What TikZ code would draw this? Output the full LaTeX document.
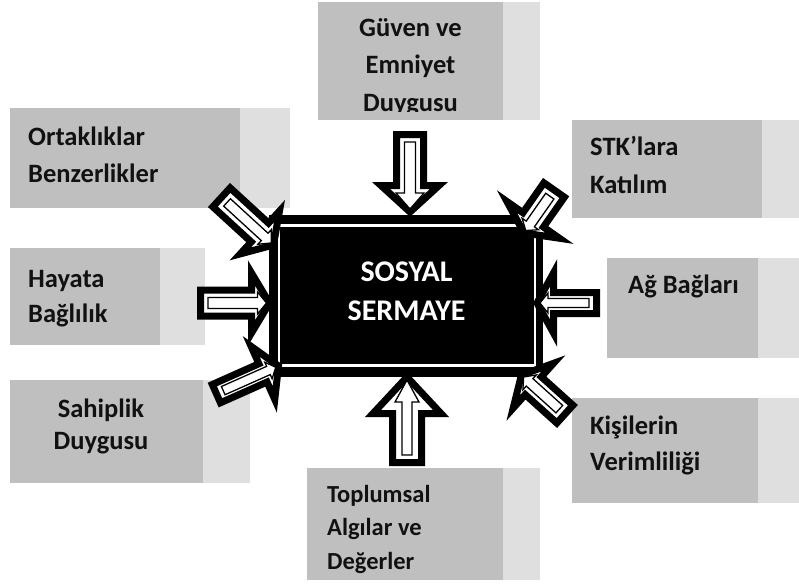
\documentclass[tikz,border=0pt]{standalone}
\usepackage{fontspec}
\setmainfont{Carlito}
\definecolor{boxdark}{RGB}{191,191,191}
\definecolor{boxlight}{RGB}{223,223,223}
\definecolor{txt}{RGB}{17,17,17}
\tikzset{
  darkpart/.style={fill=boxdark},
  lightpart/.style={fill=boxlight},
  lbl/.style={inner sep=0pt, text=txt, font=\fontsize{26.5}{30}\selectfont\bfseries},
  slbl/.style={inner sep=0pt, text=txt, font=\fontsize{24.5}{30}\selectfont\bfseries},
  clbl/.style={inner sep=0pt, text=white, font=\fontsize{30}{36}\selectfont\bfseries},
  barouter/.style={draw=black, line width=7pt, fill=white, line join=miter, miter limit=30},
  barinner/.style={draw=black, line width=1.3pt, fill=white, line join=miter, miter limit=30}
}
% #1 tip, #2 angle, #3 L, #4 w, #5 W, #6 h, #7 wi, #8 Wi, #9 hi
\newcommand{\BlockArrow}[9]{%
  \begin{scope}[shift={(#1)},rotate=#2]
    \draw[barouter] (0,0) -- (-#6,#5) -- (-#6,#4) -- (-#3,#4) -- (-#3,-#4)
       -- (-#6,-#4) -- (-#6,-#5) -- cycle;
    \draw[barinner] (-3,0) -- ({-3-#9},#8) -- ({-3-#9},#7) -- ({-#3+7.5},#7)
       -- ({-#3+7.5},-#7) -- ({-3-#9},-#7) -- ({-3-#9},-#8) -- cycle;
  \end{scope}}
\begin{document}
\begin{tikzpicture}[x=1pt,y=-1pt]
\useasboundingbox (0,0) rectangle (799,583);
\fill[white] (0,0) rectangle (799,583);

% ---- boxes ----
% Guven
\fill[darkpart] (318,2) rectangle (503,120);
\fill[lightpart] (503,2) rectangle (540,120);
\begin{scope}
  \clip (318,2) rectangle (540,111);
  \node[lbl,anchor=base] (g1) at (410.5,37) {Güven ve};
  \node[lbl,anchor=base] (g2) at (410.5,74) {Emniyet};
  \node[lbl,anchor=base] (g3) at (410.5,111) {Duygusu};
\end{scope}
% Ortakliklar
\fill[darkpart] (10,108) rectangle (240,208);
\fill[lightpart] (240,108) rectangle (290,208);
\node[lbl,anchor=base west] (o1) at (28,145) {Ortaklıklar};
\node[lbl,anchor=base west] (o2) at (28,182) {Benzerlikler};
% Hayata
\fill[darkpart] (10,248) rectangle (160,345);
\fill[lightpart] (160,248) rectangle (205,345);
\node[lbl,anchor=base west] (h1) at (28,287) {Hayata};
\node[lbl,anchor=base west] (h2) at (28,322) {Bağlılık};
% Sahiplik
\fill[darkpart] (10,380) rectangle (203,483);
\fill[lightpart] (203,380) rectangle (250,483);
\node[lbl,anchor=base] (s1) at (101,417) {Sahiplik};
\node[lbl,anchor=base] (s2) at (101,449) {Duygusu};
% STK
\fill[darkpart] (572,120) rectangle (762,218);
\fill[lightpart] (762,120) rectangle (799,218);
\node[lbl,anchor=base west] (k1) at (590,155) {STK’lara};
\node[lbl,anchor=base west] (k2) at (590,193) {Katılım};
% Ag
\fill[darkpart] (607,258) rectangle (758,358);
\fill[lightpart] (758,258) rectangle (799,358);
\node[lbl,anchor=base west] (a1) at (628,293) {Ağ Bağları};
% Kisilerin
\fill[darkpart] (572,398) rectangle (758,503);
\fill[lightpart] (758,398) rectangle (799,503);
\node[lbl,anchor=base west] (v1) at (590,434) {Kişilerin};
\node[lbl,anchor=base west] (v2) at (590,470) {Verimliliği};
% Toplumsal
\fill[darkpart] (307,468) rectangle (503,580);
\fill[lightpart] (503,468) rectangle (540,580);
\begin{scope}
  \clip (307,468) rectangle (540,574);
  \node[slbl,anchor=base west] (p1) at (327,502) {Toplumsal};
  \node[slbl,anchor=base west] (p2) at (327,535.5) {Algılar ve};
  \node[slbl,anchor=base west] (p3) at (327,569) {Değerler};
\end{scope}

% ---- central frame ----
\fill[black] (269,215) rectangle (543,377);
\draw[white, line width=2.6pt] (279,225.5) rectangle (535,365.5);
\node[clbl,anchor=base] (c1) at (406.5,281) {SOSYAL};
\node[clbl,anchor=base] (c2) at (406.5,320) {SERMAYE};

% ---- arrow tips ----
\coordinate (tipT) at (410,212);
\coordinate (tipB) at (407,377);
\coordinate (tipL) at (269.5,303);
\coordinate (tipR) at (537,303);
\coordinate (tipTL) at (273.5,245);
\coordinate (tipBL) at (278.5,366);
\coordinate (tipTR) at (524,233);
\coordinate (tipBR) at (521.4,375);

\BlockArrow{tipT}{-90}{77.5}{13.5}{29}{26.5}{5.5}{14}{16}
\BlockArrow{tipB}{90}{85.5}{14.5}{34}{36.5}{5}{12}{22}
\BlockArrow{tipL}{0}{69}{13}{30}{18}{5.5}{11}{9}
\BlockArrow{tipR}{180}{59.5}{10.5}{30}{16.5}{4.5}{10}{8}
\BlockArrow{tipTL}{-42.5}{70.5}{12.8}{29}{18.5}{5}{10}{9}
\BlockArrow{tipBL}{24}{68}{10}{29}{17}{4.5}{9}{8}
\BlockArrow{tipTR}{-125}{52.5}{12.5}{32}{16}{5}{10}{8}
\BlockArrow{tipBR}{138}{58.5}{12}{30}{16}{5}{10}{8}
\end{tikzpicture}
\end{document}
